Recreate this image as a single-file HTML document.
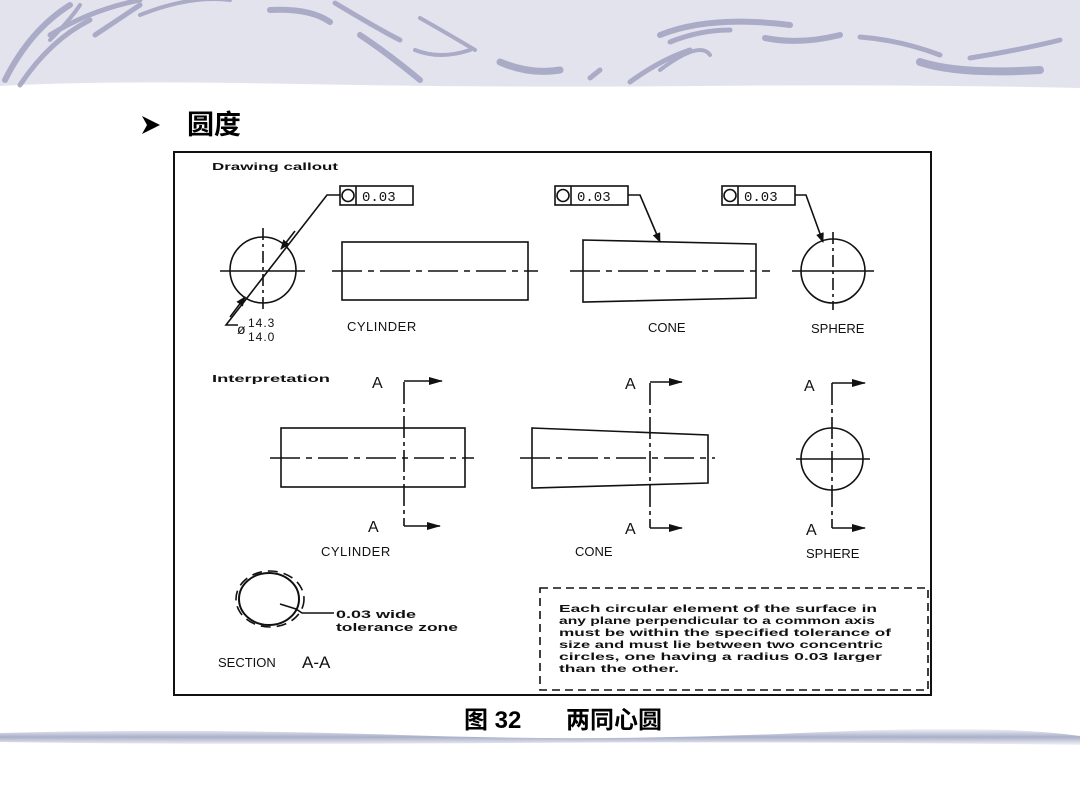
<!DOCTYPE html>
<html><head><meta charset="utf-8"><style>
html,body{margin:0;padding:0;background:#fff;}
svg{display:block;}
.m{font-family:"Liberation Mono","DejaVu Sans Mono",monospace;}
.s{font-family:"Liberation Sans",sans-serif;}
</style></head><body>
<svg width="1080" height="810" viewBox="0 0 1080 810" xmlns="http://www.w3.org/2000/svg">
<defs>
<linearGradient id="bb" x1="0" y1="0" x2="0" y2="1">
<stop offset="0" stop-color="#eef0f6"/><stop offset="0.5" stop-color="#a9afc8"/><stop offset="1" stop-color="#f2f3f8"/>
</linearGradient>
<marker id="ar" markerWidth="10" markerHeight="8" refX="9" refY="4" orient="auto" markerUnits="userSpaceOnUse"><path d="M0,0 L10,4 L0,8 z" fill="#111"/></marker>
<marker id="ar2" markerWidth="14" markerHeight="8" refX="13" refY="4" orient="auto" markerUnits="userSpaceOnUse"><path d="M0,0 L14,4 L0,8 z" fill="#111"/></marker>
</defs>
<path d="M0,0 H1080 V88 Q900,84 700,86 T300,84 T0,86 Z" fill="#e3e3ee"/>
<g fill="none" stroke="#a4a6c2" stroke-linecap="round" opacity="0.9">
<path d="M5,80 Q30,30 70,5" stroke-width="6"/>
<path d="M20,85 Q50,40 90,20" stroke-width="5"/>
<path d="M50,40 Q70,20 80,5" stroke-width="4"/>
<path d="M50,35 Q90,10 140,0" stroke-width="5"/>
<path d="M140,5 Q110,25 95,35" stroke-width="5"/>
<path d="M140,15 Q190,-5 230,0" stroke-width="4"/>
<path d="M270,10 Q310,8 330,22" stroke-width="6"/>
<path d="M335,3 Q380,30 400,40" stroke-width="5"/>
<path d="M360,35 Q390,55 420,80" stroke-width="6"/>
<path d="M415,50 Q440,60 470,50" stroke-width="4"/>
<path d="M420,18 Q450,35 475,50" stroke-width="4"/>
<path d="M500,62 Q530,75 560,70" stroke-width="7"/>
<path d="M590,78 L600,70" stroke-width="5"/>
<path d="M630,82 Q660,60 690,50" stroke-width="5"/>
<path d="M660,70 Q700,40 710,55" stroke-width="4"/>
<path d="M660,35 Q710,15 790,25" stroke-width="6"/>
<path d="M670,42 Q700,30 730,30" stroke-width="5"/>
<path d="M765,38 Q800,45 840,35" stroke-width="6"/>
<path d="M860,37 Q900,40 940,55" stroke-width="5"/>
<path d="M920,62 Q960,75 1040,70" stroke-width="8"/>
<path d="M970,58 Q1020,50 1060,40" stroke-width="5"/>
</g>
<path d="M0,733 Q200,728 400,735 T800,733 T1080,736 V745 Q800,741 500,743 T0,742 Z" fill="url(#bb)"/>
<path d="M142,116 L160,125 L142,134 L147,125 Z" fill="#000"/>
<text x="187" y="134" font-family="Liberation Sans,'Noto Sans CJK SC',sans-serif" font-size="27" font-weight="bold">圆度</text>
<text x="464" y="728" font-family="Liberation Sans,'Noto Sans CJK SC',sans-serif" font-size="24" font-weight="bold">图 32</text>
<text x="566" y="728" font-family="Liberation Sans,'Noto Sans CJK SC',sans-serif" font-size="24" font-weight="bold">两同心圆</text>
<rect x="174" y="152" width="757" height="543" fill="none" stroke="#111" stroke-width="2"/>
<g stroke="#111" fill="none" stroke-width="1.6">
<rect x="340" y="186" width="73" height="19"/>
<line x1="356" y1="186" x2="356" y2="205"/>
<rect x="555" y="186" width="73" height="19"/>
<line x1="571" y1="186" x2="571" y2="205"/>
<rect x="722" y="186" width="73" height="19"/>
<line x1="738" y1="186" x2="738" y2="205"/>
<circle cx="348" cy="195.5" r="6"/><circle cx="563" cy="195.5" r="6"/><circle cx="730" cy="195.5" r="6"/>
<circle cx="263" cy="270" r="33"/>
<line x1="220" y1="271" x2="305" y2="271"/>
<line x1="263" y1="228" x2="263" y2="312" stroke-dasharray="12,4,3,4"/>
<polyline points="340,195 327,195 226,325 238,325"/>
<line x1="300" y1="230" x2="282" y2="243" stroke="none"/>
<line x1="295" y1="231" x2="281" y2="249" marker-end="url(#ar)"/>
<line x1="230" y1="317" x2="245" y2="297" marker-end="url(#ar)"/>
<rect x="342" y="242" width="186" height="58"/>
<line x1="332" y1="271" x2="538" y2="271" stroke-dasharray="30,6,6,6"/>
<polygon points="583,240 756,244 756,298 583,302"/>
<line x1="570" y1="271" x2="770" y2="271" stroke-dasharray="30,6,6,6"/>
<polyline points="628,195 640,195 660,242" marker-end="url(#ar)"/>
<circle cx="833" cy="271" r="32"/>
<line x1="792" y1="271" x2="874" y2="271"/>
<line x1="833" y1="232" x2="833" y2="310" stroke-dasharray="12,4,3,4"/>
<polyline points="795,195 806,195 823,242" marker-end="url(#ar)"/>
<rect x="281" y="428" width="184" height="59"/>
<line x1="270" y1="458" x2="474" y2="458" stroke-dasharray="30,6,6,6"/>
<line x1="404" y1="382" x2="404" y2="526" stroke-dasharray="22,4,4,4"/>
<line x1="404" y1="381" x2="442" y2="381" marker-end="url(#ar2)"/>
<line x1="404" y1="526" x2="440" y2="526" marker-end="url(#ar2)"/>
<polygon points="532,428 708,435 708,483 532,488"/>
<line x1="520" y1="458" x2="715" y2="458" stroke-dasharray="30,6,6,6"/>
<line x1="650" y1="383" x2="650" y2="528" stroke-dasharray="22,4,4,4"/>
<line x1="650" y1="382" x2="682" y2="382" marker-end="url(#ar2)"/>
<line x1="650" y1="528" x2="682" y2="528" marker-end="url(#ar2)"/>
<circle cx="832" cy="459" r="31"/>
<line x1="796" y1="459" x2="870" y2="459"/>
<line x1="832" y1="383" x2="832" y2="528" stroke-dasharray="22,4,4,4"/>
<line x1="832" y1="383" x2="865" y2="383" marker-end="url(#ar2)"/>
<line x1="832" y1="528" x2="865" y2="528" marker-end="url(#ar2)"/>
<ellipse cx="269" cy="599" rx="30" ry="26" stroke-width="2"/>
<ellipse cx="270" cy="599" rx="34" ry="28" stroke-dasharray="10,6"/>
<polyline points="280,604 296,609 302,613 334,613"/>
<rect x="540" y="588" width="388" height="102" stroke-dasharray="8,5"/>
</g>
<g class="s" fill="#111" font-weight="bold">
<text x="212" y="170" font-size="10" textLength="126" lengthAdjust="spacingAndGlyphs">Drawing callout</text>
<text x="212" y="382" font-size="10" textLength="118" lengthAdjust="spacingAndGlyphs">Interpretation</text>
<text x="336" y="618" font-size="11" textLength="80" lengthAdjust="spacingAndGlyphs">0.03 wide</text>
<text x="336" y="631" font-size="11" textLength="122" lengthAdjust="spacingAndGlyphs">tolerance zone</text>
<g font-size="10.5" lengthAdjust="spacingAndGlyphs">
<text x="559" y="612" textLength="318" lengthAdjust="spacingAndGlyphs">Each circular element of the surface in</text>
<text x="559" y="624" textLength="316" lengthAdjust="spacingAndGlyphs">any plane perpendicular to a common axis</text>
<text x="559" y="636" textLength="332" lengthAdjust="spacingAndGlyphs">must be within the specified tolerance of</text>
<text x="559" y="648" textLength="324" lengthAdjust="spacingAndGlyphs">size and must lie between two concentric</text>
<text x="559" y="660" textLength="323" lengthAdjust="spacingAndGlyphs">circles, one having a radius 0.03 larger</text>
<text x="559" y="672" textLength="120" lengthAdjust="spacingAndGlyphs">than the other.</text>
</g>
</g>
<g class="m" fill="#111">
<text x="362" y="201" font-size="14">0.03</text>
<text x="577" y="201" font-size="14">0.03</text>
<text x="744" y="201" font-size="14">0.03</text>
</g>
<g class="s" fill="#111">
<text x="237" y="334" font-size="14">ø</text>
<text x="248" y="327" font-size="12" letter-spacing="1">14.3</text>
<text x="248" y="341" font-size="12" letter-spacing="1">14.0</text>
<text x="347" y="331" font-size="13" letter-spacing="0.5">CYLINDER</text>
<text x="648" y="332" font-size="13">CONE</text>
<text x="811" y="333" font-size="13">SPHERE</text>
<text x="372" y="388" font-size="16">A</text>
<text x="625" y="389" font-size="16">A</text>
<text x="804" y="391" font-size="16">A</text>
<text x="368" y="532" font-size="16">A</text>
<text x="625" y="534" font-size="16">A</text>
<text x="806" y="535" font-size="16">A</text>
<text x="321" y="556" font-size="13" letter-spacing="0.5">CYLINDER</text>
<text x="575" y="556" font-size="13">CONE</text>
<text x="806" y="558" font-size="13">SPHERE</text>
<text x="218" y="667" font-size="13">SECTION</text>
<text x="302" y="668" font-size="17">A-A</text>
</g>
</svg>
</body></html>
